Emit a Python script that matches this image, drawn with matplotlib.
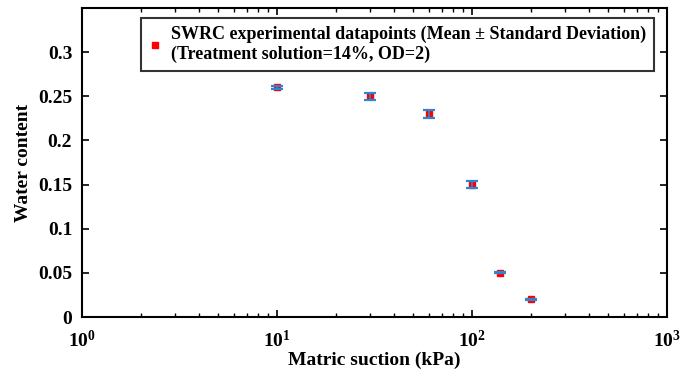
import matplotlib
matplotlib.use("Agg")
import matplotlib.pyplot as plt
from matplotlib.lines import Line2D

plt.rcParams['font.family'] = ['Liberation Serif', 'DejaVu Serif']
plt.rcParams['font.weight'] = 'bold'
plt.rcParams['mathtext.fontset'] = 'stix'

# matric suction (kPa) vs. water content
suction = [10, 30, 60, 100, 140, 200]
water = [0.26, 0.25, 0.23, 0.15, 0.05, 0.02]
std_dev = [0.002, 0.0042, 0.0046, 0.0038, 0.0006, 0.0008]

fig = plt.figure(figsize=(6.94, 3.77), dpi=100)
ax = fig.add_axes([0.118, 0.159, 0.843, 0.82])

ax.plot(suction, water, 's', color='red', markersize=4.5, zorder=2)
ax.errorbar(suction, water, yerr=std_dev, fmt='none', ecolor='#2f86d0',
            elinewidth=1.2, capsize=4, capthick=1.6, zorder=3)

ax.set_xscale('log')
ax.set_xlim(1, 1000)
ax.set_ylim(0, 0.35)
ax.set_yticks([0, 0.05, 0.1, 0.15, 0.2, 0.25, 0.3])
ax.set_yticklabels(['0', '0.05', '0.1', '0.15', '0.2', '0.25', '0.3'])

ax.tick_params(which='both', direction='in', top=True, right=True, labelsize=14)
ax.tick_params(which='major', length=5, width=1.2)
ax.tick_params(which='minor', length=3, width=1.0)
ax.tick_params(axis='x', which='major', pad=9)
ax.tick_params(axis='y', which='major', pad=7)
ax.tick_params(axis='y', which='minor', left=False, right=False)
for s in ax.spines.values():
    s.set_linewidth(1.5)

ax.set_xlabel('Matric suction (kPa)', fontsize=14, fontweight='bold', labelpad=1)
ax.set_ylabel('Water content', fontsize=14, fontweight='bold', labelpad=4)

handle = Line2D([], [], marker='s', color='red', linestyle='none', markersize=4.5)
leg = ax.legend([handle],
                ['SWRC experimental datapoints (Mean \u00b1 Standard Deviation)\n'
                 '(Treatment solution=14%, OD=2)'],
                loc='upper right', bbox_to_anchor=(0.978, 0.968), fontsize=13,
                frameon=True, fancybox=False, edgecolor='black',
                handlelength=0.6, handletextpad=0.6, borderpad=0.45,
                borderaxespad=0, labelspacing=0)
leg.get_frame().set_linewidth(1.5)

fig.savefig('out.png', dpi=100)
